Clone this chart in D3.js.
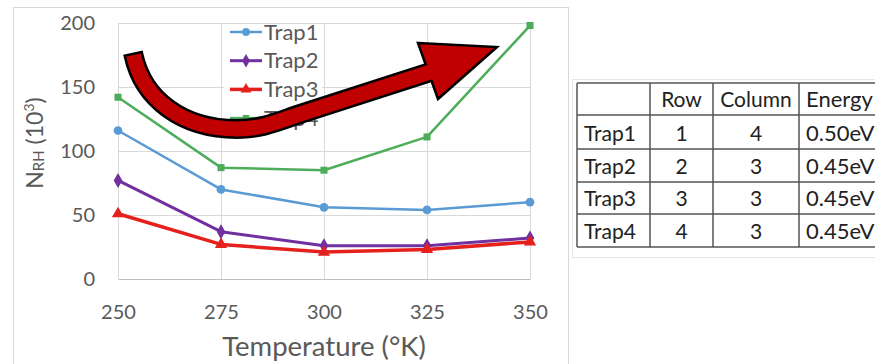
<!DOCTYPE html>
<html>
<head>
<meta charset="utf-8">
<script src="https://cdn.jsdelivr.net/npm/d3@7"></script>
<style>
  html, body { margin: 0; padding: 0; background: #fff; }
  svg { display: block; font-family: Lato, "Open Sans", sans-serif; }
</style>
</head>
<body>
<svg id="chart" width="875" height="364"></svg>
<script>
// Temperatures (K) on the x axis
const temperatures = [250, 275, 300, 325, 350];
// N_RH (x10^3) per trap
const trap1 = [116, 70, 56, 54, 60];
const trap2 = [77, 37, 26, 26, 32];
const trap3 = [51, 27, 21, 23, 29];
const trap4 = [142, 87, 85, 111, 198];
const seriesNames = ["Trap1", "Trap2", "Trap3", "Trap4"];
const yTicks = [0, 50, 100, 150, 200];

// Trap location / energy table
const tableHeader = ["", "Row", "Column", "Energy"];
const tableTraps = ["Trap1", "Trap2", "Trap3", "Trap4"];
const tableRow = [1, 2, 3, 4];
const tableColumn = [4, 3, 3, 3];
const tableEnergy = ["0.50eV", "0.45eV", "0.45eV", "0.45eV"];

// Trend arrow path, in (temperature, N_RH) units
const arrowPath = [[253.76, 175], [256.07, 140.6], [265.53, 117.2], [278.88, 117.2],
                   [284.95, 117.2], [288.83, 123.2], [294.17, 128.9]];
const arrowShaftEnd = [328.5, 164.5];
const arrowHead = [[322.8, 184.4], [341.99, 181.25], [327.67, 140.6]];

const series = [
  { name: seriesNames[0], values: trap1, color: "#5B9BD5", width: 2.5, symbol: d3.symbolCircle, size: 60 },
  { name: seriesNames[1], values: trap2, color: "#7030A0", width: 3, symbol: d3.symbolDiamond, size: 65 },
  { name: seriesNames[2], values: trap3, color: "#E5211D", width: 3.5, symbol: d3.symbolTriangle, size: 65 },
  { name: seriesNames[3], values: trap4, color: "#4DAD5B", width: 2.5, symbol: d3.symbolSquare, size: 50 }
];

const svg = d3.select("#chart");
const plot = { left: 118, right: 530, top: 23, bottom: 279 };

const x = d3.scalePoint().domain(temperatures).range([plot.left, plot.right]).padding(0);
const xLin = d3.scaleLinear().domain([250, 350]).range([plot.left, plot.right]);
const y = d3.scaleLinear().domain([0, 200]).range([plot.bottom, plot.top]);

// Chart frame
svg.append("rect").attr("x", 13.5).attr("y", 7.5).attr("width", 555).attr("height", 370)
  .attr("fill", "#fff").attr("stroke", "#D9D9D9").attr("stroke-width", 1);

// Gridlines
const grid = svg.append("g");
grid.selectAll("line.h").data(yTicks.slice(1)).join("line")
  .attr("x1", plot.left).attr("x2", plot.right)
  .attr("y1", d => Math.round(y(d)) + 0.5).attr("y2", d => Math.round(y(d)) + 0.5)
  .attr("stroke", "#D9D9D9").attr("stroke-width", 1);
grid.selectAll("line.v").data(temperatures).join("line")
  .attr("x1", d => Math.round(x(d)) + 0.5).attr("x2", d => Math.round(x(d)) + 0.5)
  .attr("y1", plot.top).attr("y2", plot.bottom)
  .attr("stroke", "#D9D9D9").attr("stroke-width", 1);

// Axes
const xAxis = svg.append("g").attr("transform", `translate(0,${plot.bottom})`)
  .call(d3.axisBottom(x).tickSize(0).tickPadding(26));
xAxis.select(".domain").attr("stroke", "#BFBFBF").attr("stroke-width", 1.2);
xAxis.selectAll("text").attr("font-size", 20).attr("fill", "#595959")
  .attr("font-family", "Lato, sans-serif");

const yAxis = svg.append("g").attr("transform", `translate(${plot.left},0)`)
  .call(d3.axisLeft(y).tickValues(yTicks).tickSize(0).tickPadding(23));
yAxis.select(".domain").remove();
yAxis.selectAll("text").attr("font-size", 20).attr("fill", "#595959")
  .attr("font-family", "Lato, sans-serif");

// Axis titles
svg.append("text").attr("x", (plot.left + plot.right) / 2).attr("y", 356)
  .attr("text-anchor", "middle").attr("font-size", 27.5).attr("fill", "#595959")
  .text("Temperature (°K)");

const yTitle = svg.append("text")
  .attr("transform", "translate(43,143) rotate(-90)")
  .attr("text-anchor", "middle").attr("font-size", 23).attr("fill", "#595959");
yTitle.append("tspan").text("N");
yTitle.append("tspan").attr("font-size", 15).attr("dy", 1).text("RH");
yTitle.append("tspan").attr("dy", -1).text(" (10");
yTitle.append("tspan").attr("font-size", 14).attr("dy", -9).text("3");
yTitle.append("tspan").attr("dy", 9).text(")");

// Series lines and markers
const line = d3.line().x((d, i) => x(temperatures[i])).y(d => y(d));
series.forEach(s => {
  const g = svg.append("g");
  g.append("path").attr("d", line(s.values)).attr("fill", "none")
    .attr("stroke", s.color).attr("stroke-width", s.width).attr("stroke-linejoin", "round");
  g.selectAll("path.m").data(s.values).join("path").attr("class", "m")
    .attr("d", d3.symbol().type(s.symbol).size(s.size))
    .attr("transform", (d, i) => `translate(${x(temperatures[i])},${y(d)})`)
    .attr("fill", s.color);
});

// Legend
const legend = svg.append("g");
legend.append("rect").attr("x", 224).attr("y", 24).attr("width", 98).attr("height", 108).attr("fill", "#fff");
const legendRows = legend.selectAll("g").data(series).join("g")
  .attr("transform", (d, i) => `translate(230,${32 + i * 28.7})`);
legendRows.append("line").attr("x1", 0).attr("x2", 32).attr("y1", 0).attr("y2", 0)
  .attr("stroke", d => d.color).attr("stroke-width", d => d.width);
legendRows.append("path").attr("d", d => d3.symbol().type(d.symbol).size(d.size * 0.8)())
  .attr("transform", "translate(16,0)").attr("fill", d => d.color);
legendRows.append("text").attr("x", 34).attr("y", 0).attr("dy", "0.35em")
  .attr("font-size", 22).attr("fill", "#595959").text(d => d.name);

// Trend arrow overlay
const arrow = svg.append("g");
const ap = arrowPath.map(p => [xLin(p[0]), y(p[1])]);
const shaftEnd = [xLin(arrowShaftEnd[0]), y(arrowShaftEnd[1])];
const tailDir = [ap[1][0] - ap[0][0], ap[1][1] - ap[0][1]];
const tl = Math.hypot(tailDir[0], tailDir[1]);
const tailOut = [ap[0][0] - tailDir[0] / tl * 2.5, ap[0][1] - tailDir[1] / tl * 2.5];
const curve = `C${ap[1]} ${ap[2]} ${ap[3]} C${ap[4]} ${ap[5]} ${ap[6]} L${shaftEnd}`;
arrow.append("path").attr("d", `M${tailOut} L${ap[0]} ${curve}`)
  .attr("fill", "none").attr("stroke", "#000").attr("stroke-width", 20).attr("stroke-linecap", "butt");
arrow.append("path").attr("d", "M" + arrowHead.map(p => [xLin(p[0]), y(p[1])].join(",")).join("L") + "Z")
  .attr("fill", "#C00000").attr("stroke", "#000").attr("stroke-width", 2.5).attr("stroke-linejoin", "miter");
arrow.append("path").attr("d", `M${ap[0]} ${curve}`)
  .attr("fill", "none").attr("stroke", "#C00000").attr("stroke-width", 15).attr("stroke-linecap", "butt");

// Trap table
const tbl = svg.append("g");
tbl.append("rect").attr("x", 572.5).attr("y", 79.5).attr("width", 320).attr("height", 178)
  .attr("fill", "#fff").attr("stroke", "#E6E6E6");
const colEdges = [577, 650, 713, 799, 900];
const rowEdges = [83, 115, 149, 182, 214, 247];
rowEdges.forEach(r => tbl.append("line").attr("x1", colEdges[0]).attr("x2", 880)
  .attr("y1", r).attr("y2", r).attr("stroke", "#555").attr("stroke-width", 1.5));
colEdges.slice(0, 4).forEach(c => tbl.append("line").attr("x1", c).attr("x2", c)
  .attr("y1", rowEdges[0]).attr("y2", rowEdges[5]).attr("stroke", "#555").attr("stroke-width", 1.5));

const cells = [tableHeader].concat(tableTraps.map((t, i) => [t, tableRow[i], tableColumn[i], tableEnergy[i]]));
cells.forEach((row, ri) => {
  row.forEach((v, ci) => {
    if (v === "") return;
    const left = colEdges[ci], right = colEdges[ci + 1];
    const centered = ri > 0 && (ci === 1 || ci === 2) || (ri === 0 && ci < 3);
    tbl.append("text")
      .attr("x", centered ? (left + Math.min(right, 875)) / 2 : left + 7)
      .attr("y", rowEdges[ri + 1] - 8)
      .attr("text-anchor", centered ? "middle" : "start")
      .attr("font-size", ci === 3 ? 22 : 21).attr("fill", "#222").text(v);
  });
});
</script>
</body>
</html>
